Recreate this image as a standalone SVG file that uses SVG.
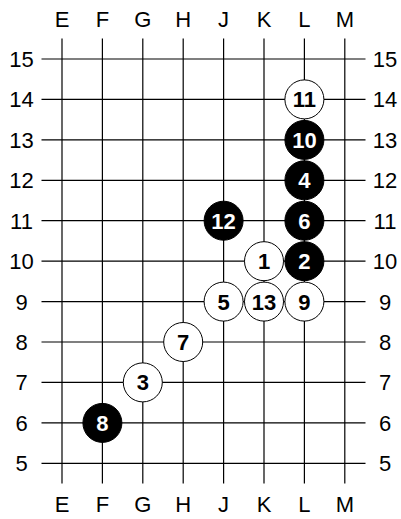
<svg xmlns="http://www.w3.org/2000/svg" width="401" height="519" viewBox="0 0 401 519">
<style>
.grid line{stroke:#000;stroke-width:1.2}
.lbl{font-family:"Liberation Sans",Arial,sans-serif;font-size:22px;fill:#000;text-anchor:middle}
.w circle{fill:#fff;stroke:#000;stroke-width:1}
.b circle{fill:#000;stroke:#000;stroke-width:1}
.st text{font-family:"Liberation Sans",Arial,sans-serif;font-size:22px;font-weight:bold;text-anchor:middle}
.w text{fill:#000}
.b text{fill:#fff}
</style>
<rect width="401" height="519" fill="#fff"/>
<g id="connectors" class="grid">
<line x1="62" y1="38.5" x2="62" y2="483.5"/>
<line x1="102.4" y1="38.5" x2="102.4" y2="483.5"/>
<line x1="142.8" y1="38.5" x2="142.8" y2="483.5"/>
<line x1="183.2" y1="38.5" x2="183.2" y2="483.5"/>
<line x1="223.6" y1="38.5" x2="223.6" y2="483.5"/>
<line x1="264" y1="38.5" x2="264" y2="483.5"/>
<line x1="304.4" y1="38.5" x2="304.4" y2="483.5"/>
<line x1="344.8" y1="38.5" x2="344.8" y2="483.5"/>
<line x1="41.5" y1="59" x2="365.5" y2="59"/>
<line x1="41.5" y1="99.4" x2="365.5" y2="99.4"/>
<line x1="41.5" y1="139.9" x2="365.5" y2="139.9"/>
<line x1="41.5" y1="180.3" x2="365.5" y2="180.3"/>
<line x1="41.5" y1="220.7" x2="365.5" y2="220.7"/>
<line x1="41.5" y1="261.2" x2="365.5" y2="261.2"/>
<line x1="41.5" y1="301.6" x2="365.5" y2="301.6"/>
<line x1="41.5" y1="342" x2="365.5" y2="342"/>
<line x1="41.5" y1="382.4" x2="365.5" y2="382.4"/>
<line x1="41.5" y1="422.9" x2="365.5" y2="422.9"/>
<line x1="41.5" y1="463.3" x2="365.5" y2="463.3"/>
</g>
<g id="col-labels" class="lbl">
<text x="62" y="26.5">E</text><text x="102.4" y="26.5">F</text><text x="142.8" y="26.5">G</text><text x="183.2" y="26.5">H</text><text x="223.6" y="26.5">J</text><text x="264" y="26.5">K</text><text x="304.4" y="26.5">L</text><text x="344.8" y="26.5">M</text>
<text x="62" y="511.7">E</text><text x="102.4" y="511.7">F</text><text x="142.8" y="511.7">G</text><text x="183.2" y="511.7">H</text><text x="223.6" y="511.7">J</text><text x="264" y="511.7">K</text><text x="304.4" y="511.7">L</text><text x="344.8" y="511.7">M</text>
</g>
<g id="row-labels" class="lbl">
<text x="21.5" y="66.9">15</text><text x="21.5" y="107.3">14</text><text x="21.5" y="147.8">13</text><text x="21.5" y="188.2">12</text><text x="21.5" y="228.6">11</text><text x="21.5" y="269.1">10</text><text x="21.5" y="309.5">9</text><text x="21.5" y="349.9">8</text><text x="21.5" y="390.3">7</text><text x="21.5" y="430.8">6</text><text x="21.5" y="471.2">5</text>
<text x="385" y="66.9">15</text><text x="385" y="107.3">14</text><text x="385" y="147.8">13</text><text x="385" y="188.2">12</text><text x="385" y="228.6">11</text><text x="385" y="269.1">10</text><text x="385" y="309.5">9</text><text x="385" y="349.9">8</text><text x="385" y="390.3">7</text><text x="385" y="430.8">6</text><text x="385" y="471.2">5</text>
</g>
<g id="s1" class="st w"><circle cx="264" cy="261.2" r="19.5"/><text x="264" y="269.1">1</text></g>
<g id="s2" class="st b"><circle cx="304.4" cy="261.2" r="19.5"/><text x="304.4" y="269.1">2</text></g>
<g id="s3" class="st w"><circle cx="142.8" cy="382.4" r="19.5"/><text x="142.8" y="390.3">3</text></g>
<g id="s4" class="st b"><circle cx="304.4" cy="180.3" r="19.5"/><text x="304.4" y="188.2">4</text></g>
<g id="s5" class="st w"><circle cx="223.6" cy="301.6" r="19.5"/><text x="223.6" y="309.5">5</text></g>
<g id="s6" class="st b"><circle cx="304.4" cy="220.7" r="19.5"/><text x="304.4" y="228.6">6</text></g>
<g id="s7" class="st w"><circle cx="183.2" cy="342" r="19.5"/><text x="183.2" y="349.9">7</text></g>
<g id="s8" class="st b"><circle cx="102.4" cy="422.9" r="19.5"/><text x="102.4" y="430.8">8</text></g>
<g id="s9" class="st w"><circle cx="304.4" cy="301.6" r="19.5"/><text x="304.4" y="309.5">9</text></g>
<g id="s10" class="st b"><circle cx="304.4" cy="139.9" r="19.5"/><text x="304.4" y="147.8">10</text></g>
<g id="s11" class="st w"><circle cx="304.4" cy="99.4" r="19.5"/><text x="304.4" y="107.3">11</text></g>
<g id="s12" class="st b"><circle cx="223.6" cy="220.7" r="19.5"/><text x="223.6" y="228.6">12</text></g>
<g id="s13" class="st w"><circle cx="264" cy="301.6" r="19.5"/><text x="264" y="309.5">13</text></g>
</svg>
